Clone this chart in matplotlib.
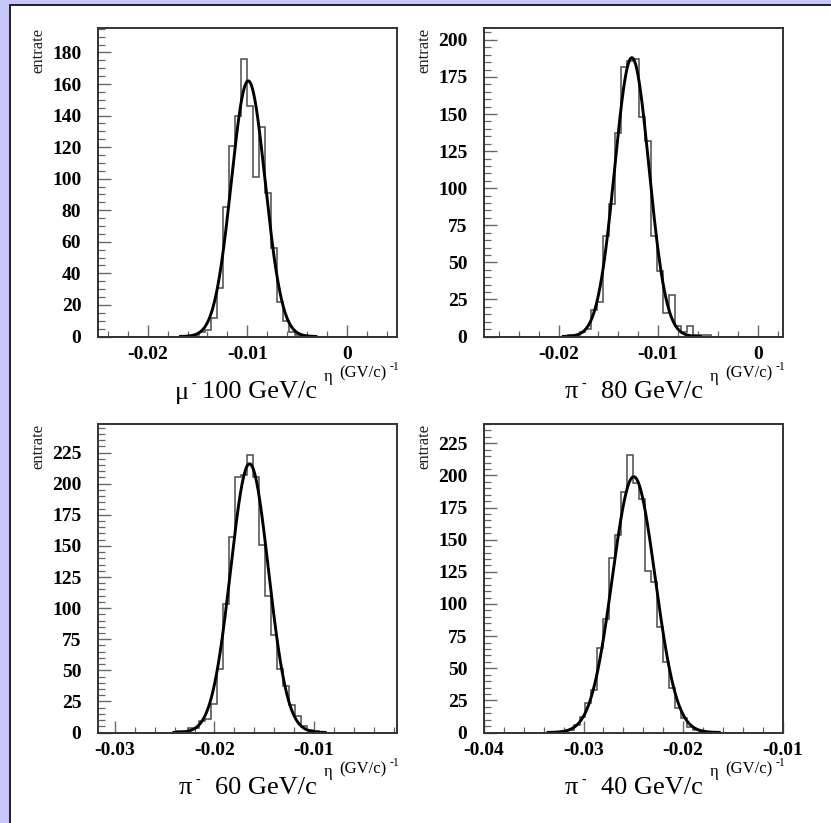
import numpy as np
import matplotlib
matplotlib.use("Agg")
import matplotlib.pyplot as plt
from matplotlib.patches import Rectangle
from matplotlib.ticker import MultipleLocator, FixedLocator, FixedFormatter

plt.rcParams['font.family'] = ['Liberation Serif', 'DejaVu Serif']
plt.rcParams['axes.unicode_minus'] = False

W, H, DPI = 831, 823, 100

# ---- data -------------------------------------------------------------
particles = ["μ", "π", "π", "π"]
energies = ["100 GeV/c", "80 GeV/c", "60 GeV/c", "40 GeV/c"]

n_bins = 50
x_ranges = [(-0.025, 0.005), (-0.0275, 0.0025), (-0.0317, -0.0017), (-0.04, -0.01)]
first_bins = [16, 14, 13, 13]

counts_mu100 = [1, 3, 4, 12, 31, 82, 121, 140, 176, 146, 101, 133, 91, 56, 22, 10, 3, 1]
counts_pi80 = [1, 1, 3, 5, 18, 23, 68, 89, 137, 182, 186, 187, 148, 132, 68, 44, 16, 28,
               7, 3, 7, 1, 1, 1]
counts_pi60 = [1, 1, 4, 4, 9, 11, 23, 51, 103, 157, 205, 207, 223, 205, 151, 110, 78, 51,
               37, 22, 13, 5, 2, 1]
counts_pi40 = [1, 2, 6, 12, 23, 33, 66, 88, 136, 154, 187, 216, 194, 182, 126, 117, 82, 55,
               35, 19, 11, 4, 2, 1]
counts = [counts_mu100, counts_pi80, counts_pi60, counts_pi40]

# gaussian fit parameters
fit_amp = [162, 188, 216, 199]
fit_mean = [-0.0099, -0.01264, -0.01647, -0.02495]
fit_sigma = [0.0017, 0.00172, 0.0019, 0.00215]

y_max = [195.5, 208, 248, 240]
y_major = [20, 25, 25, 25]
x_ticks = [[-0.02, -0.01, 0.0], [-0.02, -0.01, 0.0],
           [-0.03, -0.02, -0.01], [-0.04, -0.03, -0.02, -0.01]]
x_tick_labels = [["-0.02", "-0.01", "0"], ["-0.02", "-0.01", "0"],
                 ["-0.03", "-0.02", "-0.01"], ["-0.04", "-0.03", "-0.02", "-0.01"]]

# ---- layout (pixels) --------------------------------------------------
col_left = [98, 484]
row_top = [28, 424]
ax_w, ax_h = 298.5, 308.5

fig = plt.figure(figsize=(W / DPI, H / DPI), dpi=DPI)
fig.patch.set_facecolor('#c8c8f8')
fig.patches.append(Rectangle((10 / W, -0.01), 1.0, 1.01 - 5 / H, transform=fig.transFigure,
                             facecolor='white', edgecolor='#111111', linewidth=1.3,
                             zorder=-10))


def fx(px):
    return px / W


def fy(py):
    return 1 - py / H


for i in range(4):
    L = col_left[i % 2]
    T = row_top[i // 2]
    B = T + ax_h
    ax = fig.add_axes([fx(L), fy(B), ax_w / W, ax_h / H])
    ax.set_facecolor('none')

    lo, hi = x_ranges[i]
    edges = np.linspace(lo, hi, n_bins + 1)
    full = np.zeros(n_bins)
    full[first_bins[i]:first_bins[i] + len(counts[i])] = counts[i]
    ax.stairs(full, edges, color='#4a4a4a', linewidth=1.1, baseline=0)

    xs = np.linspace(fit_mean[i] - 4.0 * fit_sigma[i], fit_mean[i] + 4.0 * fit_sigma[i], 400)
    ax.plot(xs, fit_amp[i] * np.exp(-0.5 * ((xs - fit_mean[i]) / fit_sigma[i]) ** 2),
            color='black', linewidth=2.1)

    ax.set_xlim(lo, hi)
    ax.set_ylim(0, y_max[i])

    ax.xaxis.set_major_locator(FixedLocator(x_ticks[i]))
    ax.xaxis.set_major_formatter(FixedFormatter(x_tick_labels[i]))
    ax.xaxis.set_minor_locator(MultipleLocator(0.002))
    ax.yaxis.set_major_locator(MultipleLocator(y_major[i]))
    ax.yaxis.set_minor_locator(MultipleLocator(5))

    ax.tick_params(axis='both', which='both', direction='in', top=False, right=False)
    ax.tick_params(axis='y', which='major', length=9.5, width=1.0, color='#5f6f5f',
                   pad=12, labelsize=14)
    ax.tick_params(axis='y', which='minor', length=5, width=0.9, color='#666666')
    ax.tick_params(axis='x', which='major', length=9, width=1.0, color='#5f6f5f',
                   pad=6.5, labelsize=14)
    ax.tick_params(axis='x', which='minor', length=4.5, width=0.9, color='#666666')
    for lab in ax.get_xticklabels() + ax.get_yticklabels():
        lab.set_fontweight('bold')
    for sp in ax.spines.values():
        sp.set_color('#333333')
        sp.set_linewidth(1.4)

    # axis title on the y side
    fig.text(fx(L - 60), fy(T), "entrate", rotation=90, ha='center', va='top',
             fontsize=12, color='#222222')

    # beam description under the panel
    pre_dx = 77 if particles[i] == "μ" else 81
    sup_dx = 96 if particles[i] == "μ" else 100
    fig.text(fx(L + pre_dx), fy(B + 62), particles[i], ha='left', va='baseline',
             fontsize=19)
    fig.text(fx(L + sup_dx), fy(B + 48), "-", ha='center', va='center', fontsize=10)
    fig.text(fx(L + 219), fy(B + 62), energies[i], ha='right', va='baseline', fontsize=19)

    # variable name and unit
    fig.text(fx(L + 226), fy(B + 40), "η", ha='left', va='center', fontsize=12)
    fig.text(fx(L + 241), fy(B + 37), "(GV/c)", ha='left', va='center', fontsize=12)
    fig.text(fx(L + 292), fy(B + 30.5), "-1", ha='left', va='center', fontsize=8.5)

fig.savefig("out.png", dpi=DPI, facecolor=fig.get_facecolor())
